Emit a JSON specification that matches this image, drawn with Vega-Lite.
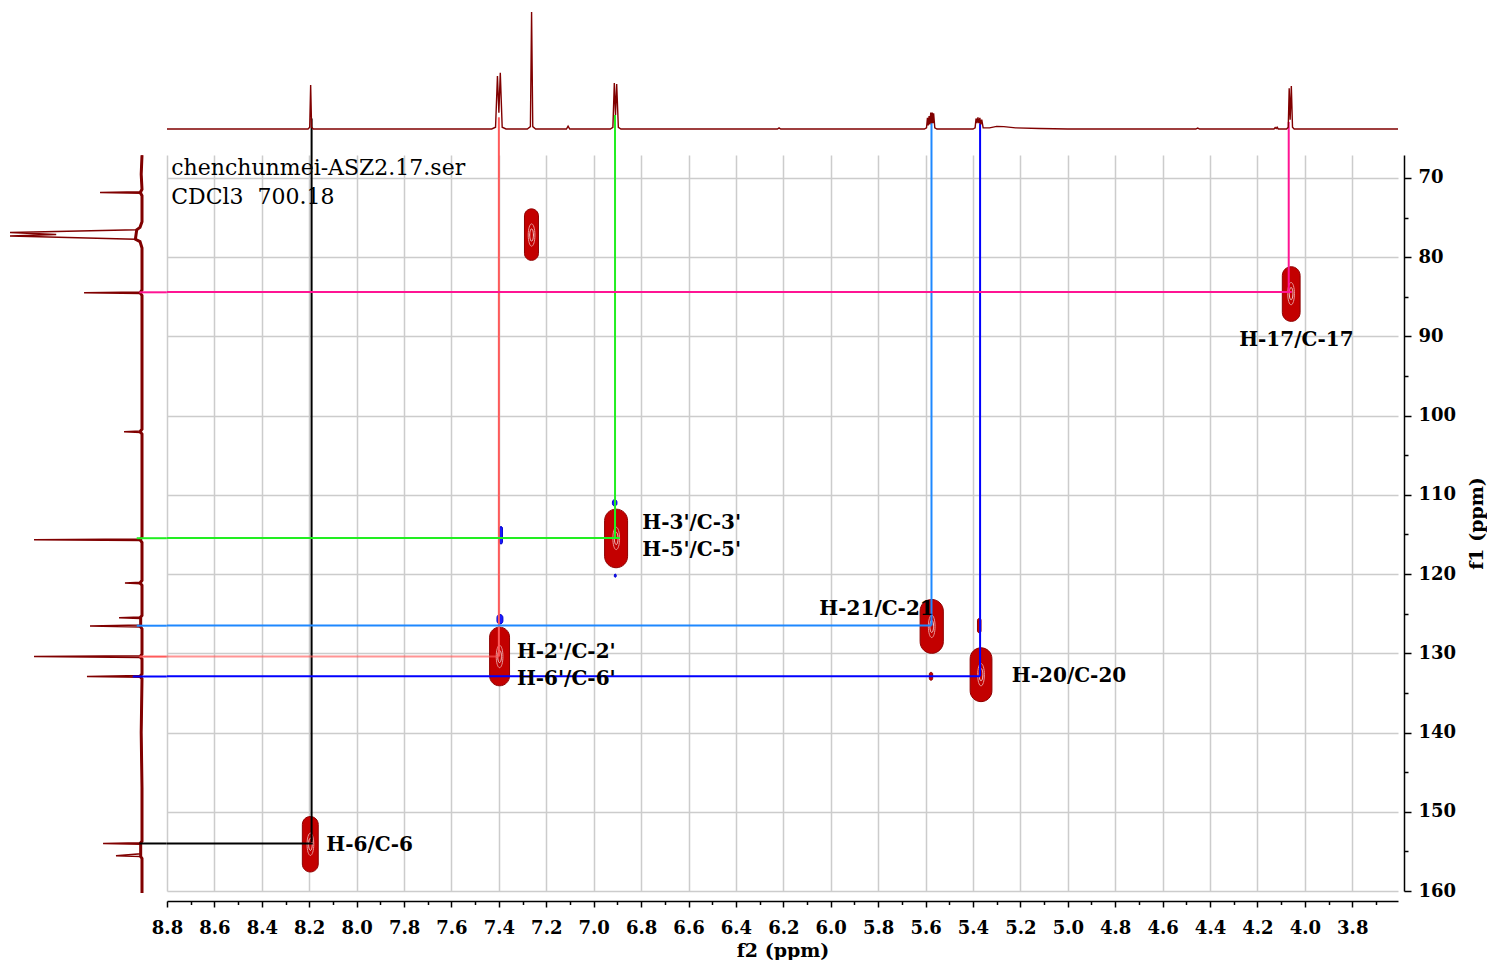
{
  "$schema": "https://vega.github.io/schema/vega-lite/v6.json",
  "padding": 0,
  "background": "white",
  "spacing": 0,
  "bounds": "flush",
  "config": {"view": {"stroke": null}, "concat": {"spacing": 0}},
  "datasets": {
    "proton": [
      {"h1": 8.8, "i": 0}, {"h1": 8.205, "i": 0}, {"h1": 8.198, "i": 1.5}, {"h1": 8.194, "i": 37.6}, {"h1": 8.19, "i": 1.5}, {"h1": 8.183, "i": 0},
      {"h1": 7.43, "i": 0}, {"h1": 7.414, "i": 1.5}, {"h1": 7.406, "i": 45.3}, {"h1": 7.4, "i": 14}, {"h1": 7.394, "i": 48.1}, {"h1": 7.386, "i": 1.5}, {"h1": 7.37, "i": 0},
      {"h1": 7.28, "i": 0}, {"h1": 7.267, "i": 2}, {"h1": 7.262, "i": 100}, {"h1": 7.257, "i": 2}, {"h1": 7.245, "i": 0},
      {"h1": 7.115, "i": 0}, {"h1": 7.108, "i": 2.5}, {"h1": 7.101, "i": 0},
      {"h1": 6.93, "i": 0}, {"h1": 6.919, "i": 1.5}, {"h1": 6.913, "i": 39.3}, {"h1": 6.908, "i": 12}, {"h1": 6.903, "i": 38.5}, {"h1": 6.896, "i": 1.5}, {"h1": 6.885, "i": 0},
      {"h1": 6.225, "i": 0}, {"h1": 6.218, "i": 1}, {"h1": 6.211, "i": 0},
      {"h1": 5.605, "i": 0}, {"h1": 5.596, "i": 1}, {"h1": 5.592, "i": 9.5}, {"h1": 5.589, "i": 3}, {"h1": 5.585, "i": 11}, {"h1": 5.582, "i": 4}, {"h1": 5.578, "i": 14}, {"h1": 5.575, "i": 5}, {"h1": 5.572, "i": 14}, {"h1": 5.569, "i": 5}, {"h1": 5.566, "i": 13.5}, {"h1": 5.561, "i": 1}, {"h1": 5.552, "i": 0},
      {"h1": 5.4, "i": 0}, {"h1": 5.391, "i": 1}, {"h1": 5.387, "i": 9}, {"h1": 5.383, "i": 5}, {"h1": 5.379, "i": 10}, {"h1": 5.375, "i": 5}, {"h1": 5.371, "i": 9.5}, {"h1": 5.367, "i": 4}, {"h1": 5.363, "i": 8}, {"h1": 5.357, "i": 1},
      {"h1": 5.33, "i": 1}, {"h1": 5.3, "i": 2.2}, {"h1": 5.27, "i": 2}, {"h1": 5.22, "i": 1}, {"h1": 5.12, "i": 0.4}, {"h1": 5.0, "i": 0},
      {"h1": 4.46, "i": 0}, {"h1": 4.452, "i": 0.8}, {"h1": 4.444, "i": 0},
      {"h1": 4.13, "i": 0}, {"h1": 4.125, "i": 1.2}, {"h1": 4.121, "i": 0.5}, {"h1": 4.117, "i": 1.5}, {"h1": 4.112, "i": 0},
      {"h1": 4.077, "i": 0}, {"h1": 4.07, "i": 1.5}, {"h1": 4.066, "i": 34.8}, {"h1": 4.062, "i": 8}, {"h1": 4.057, "i": 36.8}, {"h1": 4.052, "i": 1.5}, {"h1": 4.045, "i": 0},
      {"h1": 3.607, "i": 0}
    ],
    "carbon": [
      {"c13": 67.1, "i": 0}, {"c13": 69.5, "i": 0.6}, {"c13": 71.4, "i": 0}, {"c13": 71.7, "i": 1}, {"c13": 71.8, "i": 31.8}, {"c13": 71.9, "i": 1}, {"c13": 72.2, "i": 0},
      {"c13": 75.5, "i": 0}, {"c13": 76.2, "i": 1.5}, {"c13": 76.5, "i": 4}, {"c13": 76.85, "i": 100}, {"c13": 77.1, "i": 65}, {"c13": 77.3, "i": 100}, {"c13": 77.7, "i": 5}, {"c13": 78.0, "i": 1.5}, {"c13": 78.8, "i": 0},
      {"c13": 84.1, "i": 0}, {"c13": 84.35, "i": 1}, {"c13": 84.45, "i": 43.9}, {"c13": 84.55, "i": 1}, {"c13": 84.8, "i": 0},
      {"c13": 101.7, "i": 0}, {"c13": 101.9, "i": 1}, {"c13": 102.0, "i": 13.6}, {"c13": 102.1, "i": 1}, {"c13": 102.3, "i": 0},
      {"c13": 115.3, "i": 0}, {"c13": 115.55, "i": 1}, {"c13": 115.65, "i": 81.8}, {"c13": 115.75, "i": 1}, {"c13": 116.0, "i": 0},
      {"c13": 120.8, "i": 0}, {"c13": 121.0, "i": 1}, {"c13": 121.1, "i": 12.9}, {"c13": 121.2, "i": 1}, {"c13": 121.4, "i": 0},
      {"c13": 125.2, "i": 0}, {"c13": 125.4, "i": 1}, {"c13": 125.5, "i": 17.4}, {"c13": 125.6, "i": 1}, {"c13": 126.4, "i": 1}, {"c13": 126.55, "i": 39.4}, {"c13": 126.65, "i": 1}, {"c13": 126.9, "i": 0},
      {"c13": 130.1, "i": 0}, {"c13": 130.3, "i": 1}, {"c13": 130.4, "i": 81.8}, {"c13": 130.5, "i": 1}, {"c13": 130.7, "i": 0},
      {"c13": 132.6, "i": 0}, {"c13": 132.8, "i": 1}, {"c13": 132.9, "i": 41.7}, {"c13": 133.0, "i": 1}, {"c13": 133.2, "i": 0},
      {"c13": 140.0, "i": 0.6}, {"c13": 147.0, "i": 0},
      {"c13": 153.7, "i": 0}, {"c13": 153.9, "i": 1}, {"c13": 154.0, "i": 29.5}, {"c13": 154.1, "i": 1}, {"c13": 155.3, "i": 1}, {"c13": 155.55, "i": 19.7}, {"c13": 155.65, "i": 1}, {"c13": 155.9, "i": 0},
      {"c13": 160.25, "i": 0}
    ],
    "mainSegs": [
      {"id": "H-6", "seg": "v", "h1": 8.19, "c13": 67.1}, {"id": "H-6", "seg": "v", "h1": 8.19, "c13": 153.8},
      {"id": "H-6", "seg": "h", "h1": 8.8, "c13": 154.0}, {"id": "H-6", "seg": "h", "h1": 8.185, "c13": 154.0},
      {"id": "H-2'", "seg": "v", "h1": 7.4, "c13": 67.1}, {"id": "H-2'", "seg": "v", "h1": 7.4, "c13": 130.4},
      {"id": "H-2'", "seg": "h", "h1": 8.8, "c13": 130.4}, {"id": "H-2'", "seg": "h", "h1": 7.4, "c13": 130.4},
      {"id": "H-3'", "seg": "v", "h1": 6.91, "c13": 67.1}, {"id": "H-3'", "seg": "v", "h1": 6.91, "c13": 115.45},
      {"id": "H-3'", "seg": "h", "h1": 8.8, "c13": 115.45}, {"id": "H-3'", "seg": "h", "h1": 6.89, "c13": 115.45},
      {"id": "H-21", "seg": "v", "h1": 5.575, "c13": 67.1}, {"id": "H-21", "seg": "v", "h1": 5.575, "c13": 126.5},
      {"id": "H-21", "seg": "h", "h1": 8.8, "c13": 126.5}, {"id": "H-21", "seg": "h", "h1": 5.575, "c13": 126.5},
      {"id": "H-20", "seg": "v", "h1": 5.37, "c13": 67.1}, {"id": "H-20", "seg": "v", "h1": 5.37, "c13": 132.9},
      {"id": "H-20", "seg": "h", "h1": 8.8, "c13": 132.9}, {"id": "H-20", "seg": "h", "h1": 5.37, "c13": 132.9},
      {"id": "H-17", "seg": "v", "h1": 4.068, "c13": 67.1}, {"id": "H-17", "seg": "v", "h1": 4.068, "c13": 84.4},
      {"id": "H-17", "seg": "h", "h1": 8.8, "c13": 84.4}, {"id": "H-17", "seg": "h", "h1": 4.055, "c13": 84.4}
    ],
    "topSegs": [
      {"id": "H-6", "h1": 8.19, "i": 9}, {"id": "H-6", "h1": 8.19, "i": -22.22},
      {"id": "H-2'", "h1": 7.4, "i": 10}, {"id": "H-2'", "h1": 7.4, "i": -22.22},
      {"id": "H-3'", "h1": 6.91, "i": 12}, {"id": "H-3'", "h1": 6.91, "i": -22.22},
      {"id": "H-21", "h1": 5.575, "i": 6}, {"id": "H-21", "h1": 5.575, "i": -22.22},
      {"id": "H-20", "h1": 5.37, "i": 5}, {"id": "H-20", "h1": 5.37, "i": -22.22},
      {"id": "H-17", "h1": 4.068, "i": 6}, {"id": "H-17", "h1": 4.068, "i": -22.22}
    ],
    "leftSegs": [
      {"id": "H-6", "c13": 154.0, "i": 2}, {"id": "H-6", "c13": 154.0, "i": -18.94},
      {"id": "H-2'", "c13": 130.4, "i": 2}, {"id": "H-2'", "c13": 130.4, "i": -18.94},
      {"id": "H-3'", "c13": 115.45, "i": 4}, {"id": "H-3'", "c13": 115.45, "i": -18.94},
      {"id": "H-21", "c13": 126.5, "i": 4}, {"id": "H-21", "c13": 126.5, "i": -18.94},
      {"id": "H-20", "c13": 132.9, "i": 7}, {"id": "H-20", "c13": 132.9, "i": -18.94},
      {"id": "H-17", "c13": 84.4, "i": 2}, {"id": "H-17", "c13": 84.4, "i": -18.94}
    ],
    "peaks": [
      {"kind": "major", "sign": "pos", "h1": 8.195, "c13": 154.1, "h1a": 8.229, "h1b": 8.162, "c13a": 150.6, "c13b": 157.6},
      {"kind": "major", "sign": "pos", "h1": 7.262, "c13": 77.2, "h1a": 7.292, "h1b": 7.233, "c13a": 73.9, "c13b": 80.4},
      {"kind": "major", "sign": "pos", "h1": 7.397, "c13": 130.4, "h1a": 7.439, "h1b": 7.355, "c13a": 126.7, "c13b": 134.1},
      {"kind": "major", "sign": "pos", "h1": 6.905, "c13": 115.5, "h1a": 6.954, "h1b": 6.857, "c13a": 111.8, "c13b": 119.2},
      {"kind": "major", "sign": "pos", "h1": 5.574, "c13": 126.6, "h1a": 5.623, "h1b": 5.525, "c13a": 123.2, "c13b": 130.0},
      {"kind": "major", "sign": "pos", "h1": 5.366, "c13": 132.7, "h1a": 5.412, "h1b": 5.32, "c13a": 129.3, "c13b": 136.1},
      {"kind": "major", "sign": "pos", "h1": 4.058, "c13": 84.6, "h1a": 4.095, "h1b": 4.02, "c13a": 81.2, "c13b": 88.1},
      {"kind": "minor", "sign": "neg", "h1": 7.396, "c13": 125.7, "h1a": 7.408, "h1b": 7.383, "c13a": 125.1, "c13b": 126.3},
      {"kind": "minor", "sign": "neg", "h1": 7.391, "c13": 115.1, "h1a": 7.397, "h1b": 7.385, "c13a": 114.0, "c13b": 116.2},
      {"kind": "minor", "sign": "neg", "h1": 6.911, "c13": 111.0, "h1a": 6.921, "h1b": 6.902, "c13a": 110.6, "c13b": 111.4},
      {"kind": "minor", "sign": "neg", "h1": 6.909, "c13": 120.2, "h1a": 6.913, "h1b": 6.905, "c13a": 120.0, "c13b": 120.4},
      {"kind": "minor", "sign": "pos", "h1": 5.373, "c13": 126.5, "h1a": 5.381, "h1b": 5.366, "c13a": 125.6, "c13b": 127.4},
      {"kind": "minor", "sign": "pos", "h1": 5.577, "c13": 132.9, "h1a": 5.584, "h1b": 5.57, "c13a": 132.4, "c13b": 133.4}
    ],
    "labels": [
      {"t": "H-17/C-17", "h1": 4.277, "c13": 90.42},
      {"t": "H-3'/C-3'", "h1": 6.795, "c13": 113.5},
      {"t": "H-5'/C-5'", "h1": 6.795, "c13": 116.93},
      {"t": "H-21/C-21", "h1": 6.048, "c13": 124.42},
      {"t": "H-2'/C-2'", "h1": 7.324, "c13": 129.77},
      {"t": "H-6'/C-6'", "h1": 7.324, "c13": 133.26},
      {"t": "H-20/C-20", "h1": 5.236, "c13": 132.84},
      {"t": "H-6/C-6", "h1": 8.128, "c13": 154.18}
    ],
    "notes": [
      {"t": "chenchunmei-ASZ2.17.ser", "h1": 8.782, "c13": 68.74},
      {"t": "CDCl3  \u00a0700.18", "h1": 8.782, "c13": 72.4}
    ]
  },
  "hconcat": [
    {
      "width": 167,
      "height": 891,
      "layer": [
        {
          "data": {"name": "carbon"},
          "transform": [{"filter": "datum.i <= 5"}],
          "mark": {"type": "line", "color": "#800000", "strokeWidth": 3},
          "encoding": {
            "x": {"field": "i", "type": "quantitative", "scale": {"domain": [-18.94, 107.58], "reverse": true, "nice": false, "zero": false}, "axis": null},
            "y": {"field": "c13", "type": "quantitative", "scale": {"domain": [47.49, 160], "reverse": true, "nice": false, "zero": false}, "axis": null},
            "order": {"field": "c13", "type": "quantitative"}
          }
        },
        {
          "data": {"name": "carbon"},
          "mark": {"type": "line", "color": "#800000", "strokeWidth": 1.5},
          "encoding": {
            "x": {"field": "i", "type": "quantitative", "axis": null},
            "y": {"field": "c13", "type": "quantitative", "axis": null},
            "order": {"field": "c13", "type": "quantitative"}
          }
        },
        {
          "data": {"name": "leftSegs"},
          "mark": {"type": "line", "strokeWidth": 2},
          "encoding": {
            "x": {"field": "i", "type": "quantitative", "axis": null},
            "y": {"field": "c13", "type": "quantitative", "axis": null},
            "color": {"field": "id", "type": "nominal", "scale": {"domain": ["H-6", "H-2'", "H-3'", "H-21", "H-20", "H-17"], "range": ["#000000", "#ff5a5a", "#22ee22", "#1e88ff", "#0000ff", "#ff1493"]}, "legend": null}
          }
        }
      ]
    },
    {
      "spacing": 0,
      "bounds": "flush",
      "vconcat": [
        {
          "width": 1231,
          "height": 155,
          "layer": [
            {
              "data": {"name": "topSegs"},
              "mark": {"type": "line", "strokeWidth": 2},
              "encoding": {
                "x": {"field": "h1", "type": "quantitative", "scale": {"domain": [3.607, 8.8], "reverse": true, "nice": false, "zero": false}, "axis": null},
                "y": {"field": "i", "type": "quantitative", "scale": {"domain": [-22.22, 110.26], "nice": false, "zero": false}, "axis": null},
                "color": {"field": "id", "type": "nominal", "scale": {"domain": ["H-6", "H-2'", "H-3'", "H-21", "H-20", "H-17"], "range": ["#000000", "#ff0000", "#22ee22", "#1e88ff", "#0000ff", "#ff1493"]}, "legend": null}
              }
            },
            {
              "data": {"name": "proton"},
              "mark": {"type": "line", "color": "#800000", "strokeWidth": 1.4},
              "encoding": {
                "x": {"field": "h1", "type": "quantitative", "axis": null},
                "y": {"field": "i", "type": "quantitative", "axis": null}
              }
            }
          ]
        },
        {
          "width": 1231,
          "height": 736,
          "resolve": {"scale": {"x": "shared"}, "axis": {"x": "independent"}},
          "layer": [
            {
              "data": {"name": "peaks"},
              "mark": {"type": "rect", "cornerRadius": 100, "strokeWidth": 1},
              "encoding": {
                "x": {
                  "field": "h1a", "type": "quantitative", "title": "f2 (ppm)",
                  "scale": {"domain": [3.607, 8.8], "reverse": true, "nice": false, "zero": false},
                  "axis": {
                    "orient": "bottom", "offset": 10, "format": ".1f",
                    "values": [3.8,4.0,4.2,4.4,4.6,4.8,5.0,5.2,5.4,5.6,5.8,6.0,6.2,6.4,6.6,6.8,7.0,7.2,7.4,7.6,7.8,8.0,8.2,8.4,8.6,8.8],
                    "tickSize": 6,
                    "grid": true, "gridColor": "#cccccc", "gridWidth": 1.5,
                    "domainColor": "#000000", "domainWidth": 1.5, "tickColor": "#000000", "tickWidth": 1.5,
                    "labelFont": "DejaVu Serif", "labelFontWeight": "bold", "labelFontSize": 18, "labelColor": "#000000",
                    "labelPadding": 12, "labelFlush": false, "labelOverlap": false, "labelBound": false,
                    "titleFont": "DejaVu Serif", "titleFontWeight": "bold", "titleFontSize": 19, "titleColor": "#000000", "titlePadding": 4
                  }
                },
                "x2": {"field": "h1b"},
                "y": {
                  "field": "c13a", "type": "quantitative", "title": "f1 (ppm)",
                  "scale": {"domain": [67.1, 160], "reverse": true, "nice": false, "zero": false},
                  "axis": {
                    "orient": "right", "offset": 6,
                    "values": [70,75,80,85,90,95,100,105,110,115,120,125,130,135,140,145,150,155,160],
                    "labelExpr": "datum.value % 10 === 0 ? datum.label : ''",
                    "tickSize": {"condition": {"test": "datum.value % 10 === 0", "value": 7}, "value": 4},
                    "grid": true, "gridColor": "#cccccc", "gridWidth": 1.5,
                    "gridOpacity": {"condition": {"test": "datum.value % 10 === 0", "value": 1}, "value": 0},
                    "domainColor": "#000000", "domainWidth": 1.5, "tickColor": "#000000", "tickWidth": 1.5,
                    "labelFont": "DejaVu Serif", "labelFontWeight": "bold", "labelFontSize": 18, "labelColor": "#000000",
                    "labelPadding": 7, "labelFlush": false, "labelOverlap": false, "labelBound": false,
                    "titleFont": "DejaVu Serif", "titleFontWeight": "bold", "titleFontSize": 19, "titleColor": "#000000",
                    "titleAngle": 270, "titleBaseline": "top", "titlePadding": 12
                  }
                },
                "y2": {"field": "c13b"},
                "fill": {"field": "sign", "type": "nominal", "scale": {"domain": ["pos", "neg"], "range": ["#c30000", "#1a1aff"]}, "legend": null},
                "stroke": {"field": "sign", "type": "nominal", "scale": {"domain": ["pos", "neg"], "range": ["#8e0000", "#0000cc"]}, "legend": null}
              }
            },
            {
              "data": {"name": "peaks"},
              "transform": [{"filter": "datum.kind === 'major'"}],
              "mark": {"type": "point", "shape": "M0,-1A0.3,1 0 1,1 0,1A0.3,1 0 1,1 0,-1Z", "size": 500, "filled": false, "stroke": "#ffffff", "strokeWidth": 1, "opacity": 0.6},
              "encoding": {
                "x": {
                  "field": "h1", "type": "quantitative", "title": null,
                  "axis": {
                    "orient": "bottom", "offset": 10, "title": null,
                    "values": [3.7,3.9,4.1,4.3,4.5,4.7,4.9,5.1,5.3,5.5,5.7,5.9,6.1,6.3,6.5,6.7,6.9,7.1,7.3,7.5,7.7,7.9,8.1,8.3,8.5,8.7],
                    "tickSize": 3.5, "tickColor": "#000000", "tickWidth": 1.5,
                    "labels": false, "grid": false, "domain": false
                  }
                },
                "y": {"field": "c13", "type": "quantitative"}
              }
            },
            {
              "data": {"name": "peaks"},
              "transform": [{"filter": "datum.kind === 'major'"}],
              "mark": {"type": "point", "shape": "M0,-1A0.3,1 0 1,1 0,1A0.3,1 0 1,1 0,-1Z", "size": 150, "filled": false, "stroke": "#ffffff", "strokeWidth": 1, "opacity": 0.8},
              "encoding": {
                "x": {"field": "h1", "type": "quantitative", "axis": null},
                "y": {"field": "c13", "type": "quantitative"}
              }
            },
            {
              "data": {"name": "mainSegs"},
              "mark": {"type": "line", "strokeWidth": 2},
              "encoding": {
                "x": {"field": "h1", "type": "quantitative", "axis": null},
                "y": {"field": "c13", "type": "quantitative"},
                "detail": {"field": "seg", "type": "nominal"},
                "color": {"field": "id", "type": "nominal", "scale": {"domain": ["H-6", "H-2'", "H-3'", "H-21", "H-20", "H-17"], "range": ["#000000", "#ff0000", "#22ee22", "#1e88ff", "#0000ff", "#ff1493"]}, "legend": null},
                "opacity": {"condition": {"test": "datum.id === \"H-2'\" && datum.seg === 'h'", "value": 0.65}, "value": 1}
              }
            },
            {
              "data": {"name": "labels"},
              "mark": {"type": "text", "font": "DejaVu Serif", "fontWeight": "bold", "fontSize": 20, "align": "left", "baseline": "middle", "color": "#000000"},
              "encoding": {
                "x": {"field": "h1", "type": "quantitative", "axis": null},
                "y": {"field": "c13", "type": "quantitative"},
                "text": {"field": "t"}
              }
            },
            {
              "data": {"name": "notes"},
              "mark": {"type": "text", "font": "DejaVu Serif", "fontSize": 22, "align": "left", "baseline": "middle", "color": "#000000"},
              "encoding": {
                "x": {"field": "h1", "type": "quantitative", "axis": null},
                "y": {"field": "c13", "type": "quantitative"},
                "text": {"field": "t"}
              }
            }
          ]
        }
      ]
    }
  ]
}
